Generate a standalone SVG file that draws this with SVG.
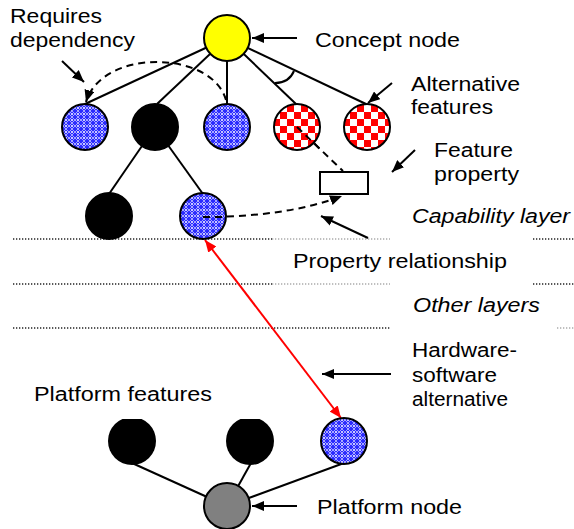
<svg xmlns="http://www.w3.org/2000/svg" width="574" height="529" viewBox="0 0 574 529">
  <style>
    .t { font-family: "Liberation Sans", Arial, sans-serif; font-size: 20px; fill: #000; }
    .it { font-style: italic; }
    .ln { stroke: #000; stroke-width: 2; fill: none; }
    .dash { stroke: #000; stroke-width: 2; fill: none; stroke-dasharray: 7 5; }
    .node { stroke: #000; stroke-width: 2; }
    .layer { stroke: #222; stroke-width: 1.3; stroke-dasharray: 1.3 1.7; }
    .layer-lt { stroke: #aaa; stroke-width: 1.3; stroke-dasharray: 1.3 1.7; }
    .blue { fill: url(#lattice); }
    .check { fill: url(#checker); }
  </style>
  <defs>
    <pattern id="lattice" width="6" height="6" patternUnits="userSpaceOnUse">
      <rect width="6" height="6" fill="#2c2cff"/>
      <path d="M0,3 L3,0 L6,3 L3,6 Z" fill="none" stroke="#b4b4ff" stroke-width="0.9"/>
      <circle cx="0" cy="0" r="1" fill="#fff"/>
      <circle cx="6" cy="0" r="1" fill="#fff"/>
      <circle cx="0" cy="6" r="1" fill="#fff"/>
      <circle cx="6" cy="6" r="1" fill="#fff"/>
    </pattern>
    <pattern id="checker" width="14" height="14" patternUnits="userSpaceOnUse">
      <rect width="14" height="14" fill="#fff"/>
      <rect width="7" height="7" fill="#ff0000"/>
      <rect x="7" y="7" width="7" height="7" fill="#ff0000"/>
    </pattern>
    <marker id="ah" viewBox="0 0 12 10" refX="12" refY="5" markerWidth="12" markerHeight="10" markerUnits="userSpaceOnUse" orient="auto">
      <path d="M0,0 L12,5 L0,10 Z" fill="#000"/>
    </marker>
    <marker id="ahr" viewBox="0 0 12 10" refX="12" refY="5" markerWidth="12" markerHeight="10" markerUnits="userSpaceOnUse" orient="auto-start-reverse">
      <path d="M0,0 L12,5 L0,10 Z" fill="#ff0000"/>
    </marker>
    <clipPath id="flatTop">
      <rect x="0" y="419" width="574" height="60"/>
    </clipPath>
  </defs>

  <!-- layer separators -->
  <g id="layers">
    <line class="layer" x1="13" y1="239" x2="272" y2="239"/>
    <line class="layer-lt" x1="272" y1="239" x2="390" y2="239"/>
    <line class="layer" x1="533" y1="239" x2="574" y2="239"/>
    <line class="layer" x1="13" y1="284" x2="272" y2="284"/>
    <line class="layer-lt" x1="272" y1="284" x2="390" y2="284"/>
    <line class="layer" x1="533" y1="284" x2="574" y2="284"/>
    <line class="layer" x1="13" y1="328" x2="390" y2="328"/>
    <line class="layer-lt" x1="557" y1="328" x2="574" y2="328"/>
  </g>

  <g id="connectors">
    <!-- concept node to features -->
    <line class="ln" x1="227" y1="38" x2="85" y2="104"/>
    <line class="ln" x1="227" y1="38" x2="157" y2="104"/>
    <line class="ln" x1="227" y1="38" x2="227" y2="104"/>
    <line class="ln" x1="227" y1="38" x2="296" y2="104"/>
    <line class="ln" x1="227" y1="38" x2="366" y2="104"/>
    <!-- alternative arc -->
    <path class="ln" d="M275,83 Q289,83 294,71"/>
    <!-- second level -->
    <line class="ln" x1="155" y1="127" x2="109" y2="194"/>
    <line class="ln" x1="155" y1="127" x2="203" y2="194"/>
    <!-- requires dependency -->
    <path class="dash" d="M226,100 C212,50 102,48 86,102" marker-end="url(#ah)"/>
    <!-- feature property links -->
    <line class="dash" x1="297" y1="127" x2="343" y2="171"/>
    <path class="dash" d="M203,217 C250,217 300,212 342,196" marker-end="url(#ah)"/>
    <!-- hardware-software alternative -->
    <line x1="205" y1="240" x2="341" y2="418" stroke="#ff0000" stroke-width="2" marker-start="url(#ahr)" marker-end="url(#ahr)"/>
    <!-- platform links -->
    <line class="ln" x1="227" y1="506" x2="132" y2="463"/>
    <line class="ln" x1="227" y1="506" x2="251" y2="463"/>
    <line class="ln" x1="227" y1="506" x2="344" y2="463"/>
    <!-- label pointers -->
    <line class="ln" x1="297" y1="38" x2="252" y2="38" marker-end="url(#ah)"/>
    <line class="ln" x1="62" y1="61" x2="84" y2="82" marker-end="url(#ah)"/>
    <line class="ln" x1="392" y1="83" x2="368" y2="103" marker-end="url(#ah)"/>
    <line class="ln" x1="415" y1="150" x2="392" y2="172" marker-end="url(#ah)"/>
    <line class="ln" x1="368" y1="238" x2="321" y2="216" marker-end="url(#ah)"/>
    <line class="ln" x1="391" y1="374" x2="322" y2="374" marker-end="url(#ah)"/>
    <line class="ln" x1="297" y1="506" x2="252" y2="506" marker-end="url(#ah)"/>
  </g>

  <g id="concept-node"><circle class="node" cx="227" cy="38" r="23" fill="#ffff00"/></g>
  <g id="feature-a"><circle class="node blue" cx="85" cy="127" r="23"/></g>
  <g id="feature-b"><circle class="node" cx="155" cy="127" r="23" fill="#000"/></g>
  <g id="feature-c"><circle class="node blue" cx="227" cy="127" r="23"/></g>
  <g id="alt-feature-1"><circle class="node check" cx="297" cy="127" r="23"/></g>
  <g id="alt-feature-2"><circle class="node check" cx="367" cy="127" r="23"/></g>
  <g id="feature-b1"><circle class="node" cx="109" cy="216" r="23" fill="#000"/></g>
  <g id="feature-b2"><circle class="node blue" cx="203" cy="216" r="23"/></g>
  <g id="feature-property"><rect class="node" x="320" y="172" width="48" height="22" fill="#fff"/></g>
  <g id="platform-feature-1"><circle cx="132" cy="441" r="24" fill="#000" clip-path="url(#flatTop)"/></g>
  <g id="platform-feature-2"><circle cx="250" cy="441" r="24" fill="#000" clip-path="url(#flatTop)"/></g>
  <g id="platform-feature-3"><circle class="node blue" cx="344" cy="441" r="23"/></g>
  <g id="platform-node"><circle class="node" cx="227" cy="506" r="23" fill="#808080"/></g>

  <!-- dashed stubs drawn over filled nodes -->
  <g id="overlay">
    <line class="dash" x1="297" y1="127" x2="320" y2="149"/>
    <line class="dash" x1="203" y1="217" x2="226" y2="217"/>
  </g>

  <g id="labels">
    <text class="t" x="10" y="23" textLength="92" lengthAdjust="spacingAndGlyphs">Requires</text>
    <text class="t" x="10" y="47" textLength="125" lengthAdjust="spacingAndGlyphs">dependency</text>
    <text class="t" x="315" y="47" textLength="145" lengthAdjust="spacingAndGlyphs">Concept node</text>
    <text class="t" x="411" y="91" textLength="109" lengthAdjust="spacingAndGlyphs">Alternative</text>
    <text class="t" x="411" y="114" textLength="82" lengthAdjust="spacingAndGlyphs">features</text>
    <text class="t" x="434" y="157" textLength="79" lengthAdjust="spacingAndGlyphs">Feature</text>
    <text class="t" x="434" y="181" textLength="85" lengthAdjust="spacingAndGlyphs">property</text>
    <text class="t it" x="412" y="223" textLength="158" lengthAdjust="spacingAndGlyphs">Capability layer</text>
    <text class="t" x="293" y="268" textLength="214" lengthAdjust="spacingAndGlyphs">Property relationship</text>
    <text class="t it" x="413" y="312" textLength="127" lengthAdjust="spacingAndGlyphs">Other layers</text>
    <text class="t" x="412" y="357" textLength="105" lengthAdjust="spacingAndGlyphs">Hardware-</text>
    <text class="t" x="412" y="382" textLength="85" lengthAdjust="spacingAndGlyphs">software</text>
    <text class="t" x="412" y="406" textLength="96" lengthAdjust="spacingAndGlyphs">alternative</text>
    <text class="t" x="34" y="401" textLength="178" lengthAdjust="spacingAndGlyphs">Platform features</text>
    <text class="t" x="317" y="514" textLength="145" lengthAdjust="spacingAndGlyphs">Platform node</text>
  </g>
</svg>
